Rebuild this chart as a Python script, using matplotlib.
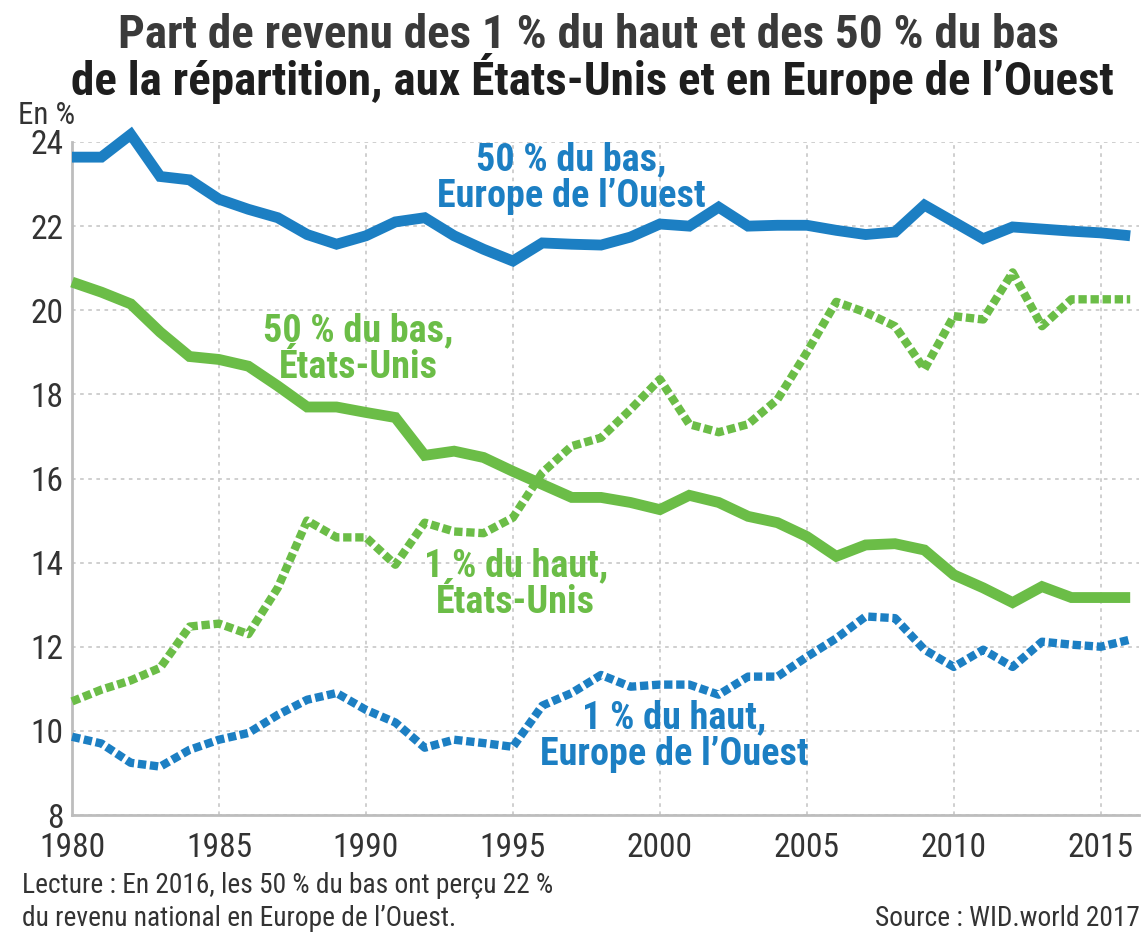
import matplotlib
matplotlib.use("Agg")
import matplotlib.pyplot as plt
from matplotlib import font_manager as fm

# ---------------- data ----------------
years = list(range(1980, 2017))
bottom50_europe = [23.64, 23.64, 24.18, 23.18, 23.1, 22.64, 22.4, 22.2, 21.8, 21.57,
                   21.77, 22.1, 22.2, 21.77, 21.45, 21.17, 21.6, 21.57, 21.55, 21.74,
                   22.05, 22.0, 22.45, 22.0, 22.02, 22.02, 21.9, 21.8, 21.86, 22.5,
                   22.1, 21.7, 21.98, 21.93, 21.88, 21.84, 21.77]
bottom50_us = [20.67, 20.43, 20.15, 19.48, 18.9, 18.83, 18.67, 18.2, 17.7, 17.7,
               17.57, 17.45, 16.55, 16.65, 16.5, 16.17, 15.86, 15.55, 15.55, 15.43,
               15.26, 15.6, 15.43, 15.1, 14.95, 14.62, 14.15, 14.42, 14.45, 14.3,
               13.71, 13.4, 13.05, 13.43, 13.17, 13.17, 13.17]
top1_us = [10.7, 10.98, 11.2, 11.5, 12.48, 12.55, 12.3, 13.4, 15.0, 14.6,
           14.6, 13.95, 14.95, 14.74, 14.7, 15.07, 16.14, 16.77, 16.97, 17.64,
           18.36, 17.29, 17.1, 17.29, 17.88, 19.0, 20.2, 19.95, 19.62, 18.6,
           19.86, 19.78, 20.9, 19.62, 20.26, 20.26, 20.26]
top1_europe = [9.86, 9.7, 9.24, 9.15, 9.55, 9.79, 9.95, 10.38, 10.74, 10.9,
               10.5, 10.2, 9.6, 9.79, 9.71, 9.62, 10.6, 10.9, 11.33, 11.05,
               11.1, 11.1, 10.86, 11.29, 11.29, 11.76, 12.2, 12.72, 12.68, 11.93,
               11.52, 11.93, 11.52, 12.12, 12.05, 12.0, 12.17]

xticks = [1980, 1985, 1990, 1995, 2000, 2005, 2010, 2015]
yticks = [8, 10, 12, 14, 16, 18, 20, 22, 24]

title_lines = ["Part de revenu des 1 % du haut et des 50 % du bas",
               "de la répartition, aux États-Unis et en Europe de l\u2019Ouest"]
lab_b50_eu = "50 % du bas,\nEurope de l\u2019Ouest"
lab_b50_us = "50 % du bas,\nÉtats-Unis"
lab_t1_us = "1 % du haut,\nÉtats-Unis"
lab_t1_eu = "1 % du haut,\nEurope de l\u2019Ouest"
note = "Lecture : En 2016, les 50 % du bas ont perçu 22 %\ndu revenu national en Europe de l\u2019Ouest."
source = "Source : WID.world 2017"
unit = "En %"

BLUE = "#1c7fc3"
GREEN = "#6bbd47"
DARK = "#333333"

# ---------------- font choice ----------------
names = {f.name for f in fm.fontManager.ttflist}
stretch = "normal"
FAM = "Liberation Sans"
for cand in ["Liberation Sans Narrow", "Roboto Condensed", "Open Sans Condensed",
             "DejaVu Sans Condensed", "Noto Sans Condensed"]:
    if cand in names:
        FAM = cand
        break
else:
    if any(f.name == "DejaVu Sans" and str(f.stretch).lower() in ("condensed", "semi-condensed")
           for f in fm.fontManager.ttflist):
        FAM = "DejaVu Sans"
        stretch = "condensed"
plt.rcParams["font.family"] = [FAM, "DejaVu Sans"]
plt.rcParams["font.stretch"] = stretch

W, H = 1143, 934
fig = plt.figure(figsize=(W / 100, H / 100), dpi=100)
renderer = fig.canvas.get_renderer()


def size_for(s, w_px, **kw):
    t = fig.text(0, 0, s, fontsize=20, **kw)
    w = t.get_window_extent(renderer).width
    t.remove()
    return 20 * w_px / w


def fx(px):
    return px / W


def fy(py):
    return 1 - py / H


x0, x1 = 72, 1139
y_top, y_bot = 142, 815
ax = fig.add_axes([fx(x0), fy(y_bot), (x1 - x0) / W, (y_bot - y_top) / H])
ax.set_xlim(1980, 2016.3)
ax.set_ylim(8, 24)

# grid
ax.set_xticks(xticks)
ax.set_yticks(yticks)
ax.grid(True, color="#cbcbcb", linestyle=(0, (2.0, 2.5)), linewidth=1.3)
ax.set_axisbelow(True)
for s in ["top", "right"]:
    ax.spines[s].set_visible(False)
for s in ["left", "bottom"]:
    ax.spines[s].set_color("#bdbdbd")
    ax.spines[s].set_linewidth(2)

tick_fs = size_for("1980", 66)
ax.tick_params(length=0, labelsize=tick_fs, colors=DARK)
ax.tick_params(axis="y", pad=6)
ax.tick_params(axis="x", pad=12)

# lines
lw_solid = 7.8
lw_dot = 6.0
ax.plot(years, bottom50_europe, color=BLUE, lw=lw_solid, solid_joinstyle="miter",
        solid_capstyle="butt", clip_on=False, zorder=4)
ax.plot(years, bottom50_us, color=GREEN, lw=lw_solid, solid_joinstyle="miter",
        solid_capstyle="butt", clip_on=False, zorder=3)
ax.plot(years, top1_us, color=GREEN, lw=lw_dot, linestyle=(0, (1.0, 0.45)),
        dash_capstyle="butt", clip_on=False, zorder=5)
ax.plot(years, top1_europe, color=BLUE, lw=lw_dot, linestyle=(0, (1.0, 0.45)),
        dash_capstyle="butt", clip_on=False, zorder=5)

# series labels
ann_fs = size_for("Europe de l\u2019Ouest", 268, fontweight="bold")
kw = dict(ha="center", va="center", fontweight="bold", fontsize=ann_fs,
          linespacing=1.0, zorder=6)
ax.text(1996.97, 23.14, lab_b50_eu, color=BLUE, **kw)
ax.text(1989.75, 19.07, lab_b50_us, color=GREEN, **kw)
ax.text(1995.1, 13.48, lab_t1_us, color=GREEN, **kw)
ax.text(2000.5, 9.88, lab_t1_eu, color=BLUE, **kw)

# title
title_fs = size_for(title_lines[1], 1040, fontweight="bold")
fig.text(fx(588), fy(35), title_lines[0], ha="center", va="center",
         fontsize=title_fs, fontweight="bold", color="#3a3a3a")
fig.text(fx(592), fy(79), title_lines[1], ha="center", va="center",
         fontsize=title_fs, fontweight="bold", color="#1e1e1e")

# unit
unit_fs = size_for(unit, 57)
fig.text(fx(18), fy(116), unit, ha="left", va="center", fontsize=unit_fs, color=DARK)

# footer
foot_fs = size_for(note.split("\n")[0], 531)
fig.text(fx(22), fy(902), note, ha="left", va="center", fontsize=foot_fs,
         color=DARK, linespacing=1.25)
fig.text(fx(1140), fy(918), source, ha="right", va="center", fontsize=foot_fs,
         color=DARK)

fig.savefig("out.png", dpi=100, facecolor="white")
